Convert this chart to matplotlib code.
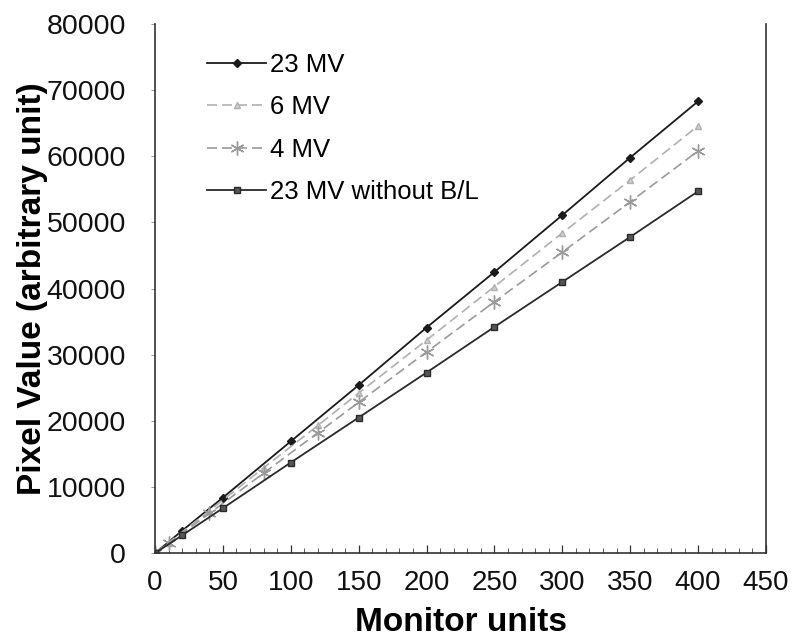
import matplotlib
matplotlib.use("Agg")
import matplotlib.pyplot as plt
from matplotlib.ticker import MultipleLocator

plt.rcParams['font.family'] = ['Liberation Sans', 'DejaVu Sans']

# Monitor units delivered for each series
mu_23 = [0, 20, 50, 100, 150, 200, 250, 300, 350, 400]
mu_6 = [0, 10, 40, 80, 120, 150, 200, 250, 300, 350, 400]
mu_4 = [0, 10, 40, 80, 120, 150, 200, 250, 300, 350, 400]
mu_23_nobl = [0, 20, 50, 100, 150, 200, 250, 300, 350, 400]

# Mean pixel values (arbitrary units)
pv_23 = [0, 3400, 8400, 16900, 25400, 34100, 42500, 51100, 59800, 68300]
pv_6 = [0, 1600, 6400, 12900, 19300, 24200, 32200, 40300, 48400, 56400, 64600]
pv_4 = [0, 1500, 6000, 12100, 18200, 22800, 30400, 38000, 45500, 53100, 60800]
pv_23_nobl = [0, 2700, 6800, 13700, 20500, 27300, 34200, 41000, 47800, 54700]

labels = ["23 MV", "6 MV", "4 MV", "23 MV without B/L"]

fig = plt.figure(figsize=(7.95, 6.38), dpi=100)
ax = fig.add_axes([0.195, 0.133, 0.7685, 0.8295])

ax.plot(mu_23, pv_23, color='#1a1a1a', lw=1.3, marker='D', ms=4.5,
        mfc='#1a1a1a', mec='#1a1a1a', label=labels[0])
ax.plot(mu_6, pv_6, color='#b0b0b0', lw=1.2, ls=(0, (6, 3)), marker='^', ms=5,
        mfc='#d0d0d0', mec='#b0b0b0', label=labels[1])
ax.plot(mu_4, pv_4, color='#9a9a9a', lw=1.2, ls=(0, (6, 3)), marker=(6, 2, 0), ms=10,
        mec='#9a9a9a', mew=1.0, label=labels[2])
ax.plot(mu_23_nobl, pv_23_nobl, color='#2a2a2a', lw=1.3, marker='s', ms=5,
        mfc='#555555', mec='#2a2a2a', label=labels[3])

ax.set_xlim(0, 450)
ax.set_ylim(0, 80000)
ax.xaxis.set_major_locator(MultipleLocator(50))
ax.xaxis.set_minor_locator(MultipleLocator(10))
ax.yaxis.set_major_locator(MultipleLocator(10000))

ax.tick_params(axis='x', which='major', direction='in', length=6, width=0.9,
               labelsize=20, pad=12, colors='#333333', labelcolor='#111111')
ax.tick_params(axis='x', which='minor', direction='in', length=3.5, width=0.7,
               colors='#555555')
ax.tick_params(axis='y', which='major', direction='out', length=3, width=0.7,
               labelsize=20.5, pad=18, colors='#999999', labelcolor='#111111')

ax.spines['top'].set_visible(False)
for side in ('left', 'bottom', 'right'):
    ax.spines[side].set_color('#333333')
    ax.spines[side].set_linewidth(1.2)

ax.set_xlabel("Monitor units", fontsize=24, fontweight='bold', labelpad=8)
ax.set_ylabel("Pixel Value (arbitrary unit)", fontsize=24, fontweight='bold', labelpad=-1)

ax.legend(loc='upper left', bbox_to_anchor=(0.06, 0.975), frameon=False,
          fontsize=18.5, handlelength=2.3, handletextpad=0.15, labelspacing=0.72,
          borderaxespad=0.2)

fig.savefig("out.png", dpi=100, facecolor='white')
